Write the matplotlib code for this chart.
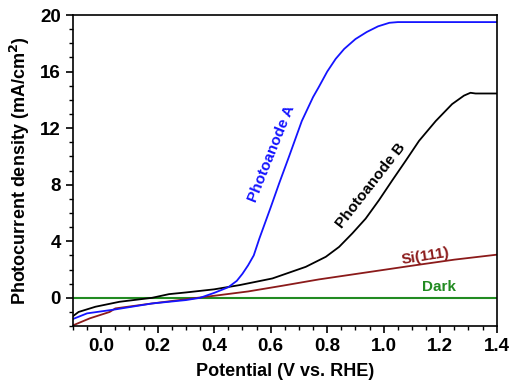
import numpy as np
import matplotlib.pyplot as plt
from matplotlib.ticker import MultipleLocator

plt.rcParams['font.family'] = ['Liberation Sans', 'DejaVu Sans']
plt.rcParams['font.weight'] = 'bold'

# Photoanode A (blue)
va = [-0.10, -0.05, 0.05, 0.18, 0.30, 0.35, 0.40, 0.45, 0.48, 0.50, 0.52, 0.54, 0.56,
      0.60, 0.63, 0.665, 0.71, 0.75, 0.77, 0.80, 0.83, 0.86, 0.90, 0.94, 0.98, 1.02,
      1.05, 1.20, 1.40]
ja = [-1.5, -1.1, -0.82, -0.4, -0.16, 0.0, 0.35, 0.75, 1.2, 1.7, 2.3, 3.0, 4.2,
      6.4, 8.1, 10.0, 12.5, 14.2, 14.9, 16.0, 16.9, 17.6, 18.3, 18.8, 19.2, 19.45,
      19.5, 19.5, 19.5]

# Photoanode B (black)
vb = [-0.10, -0.08, -0.02, 0.065, 0.18, 0.24, 0.30, 0.40, 0.49, 0.606, 0.724, 0.795,
      0.842, 0.889, 0.936, 0.983, 1.03, 1.078, 1.125, 1.184, 1.242, 1.284, 1.307,
      1.325, 1.40]
jb = [-1.3, -1.0, -0.63, -0.28, 0.0, 0.26, 0.38, 0.6, 0.9, 1.37, 2.19, 2.9,
      3.6, 4.56, 5.6, 6.9, 8.3, 9.7, 11.1, 12.5, 13.7, 14.3, 14.5,
      14.45, 14.45]

# Si(111) (dark red)
vs = [-0.10, -0.04, 0.03, 0.05, 0.18, 0.30, 0.41, 0.52, 0.64, 0.77, 0.94, 1.11,
      1.25, 1.40]
js = [-1.95, -1.45, -1.0, -0.75, -0.4, -0.1, 0.17, 0.45, 0.85, 1.3, 1.8, 2.3,
      2.7, 3.05]

# Dark (green)
vd = [-0.10, 1.40]
jd = [0.0, 0.0]

fig, ax = plt.subplots(figsize=(5.1, 3.85), dpi=100)
fig.subplots_adjust(left=0.143, right=0.974, top=0.961, bottom=0.153)

ax.plot(vd, jd, color='#228b22', lw=1.5)
ax.plot(vs, js, color='#8b1a1a', lw=1.3)
ax.plot(vb, jb, color='black', lw=1.3)
ax.plot(va, ja, color='#1414ff', lw=1.3)

ax.set_xlim(-0.1, 1.4)
ax.set_ylim(-2, 20)
ax.xaxis.set_major_locator(MultipleLocator(0.2))
ax.xaxis.set_minor_locator(MultipleLocator(0.05))
ax.yaxis.set_major_locator(MultipleLocator(4))
ax.yaxis.set_minor_locator(MultipleLocator(1))
ax.tick_params(which='major', length=5, width=1.2, labelsize=13.5)
ax.tick_params(which='minor', length=3, width=1)
for s in ax.spines.values():
    s.set_linewidth(1.2)

ax.set_xlabel('Potential (V vs. RHE)', fontsize=13, fontweight='bold', labelpad=6)
ax.set_ylabel('Photocurrent density (mA/cm$^\\mathbf{2}$)', fontsize=13,
              fontweight='bold', labelpad=6)

ax.text(0.602, 10.2, 'Photoanode A', color='#1414ff', fontsize=11, fontweight='bold',
        rotation=68, ha='center', va='center')
ax.text(0.955, 7.9, 'Photoanode B', color='black', fontsize=11, fontweight='bold',
        rotation=52, ha='center', va='center')
ax.text(1.148, 2.95, 'Si(111)', color='#8b1a1a', fontsize=11, fontweight='bold',
        rotation=9, ha='center', va='center')
ax.text(1.195, 0.78, 'Dark', color='#228b22', fontsize=11, fontweight='bold',
        ha='center', va='center')

plt.savefig('out.png', dpi=100)
